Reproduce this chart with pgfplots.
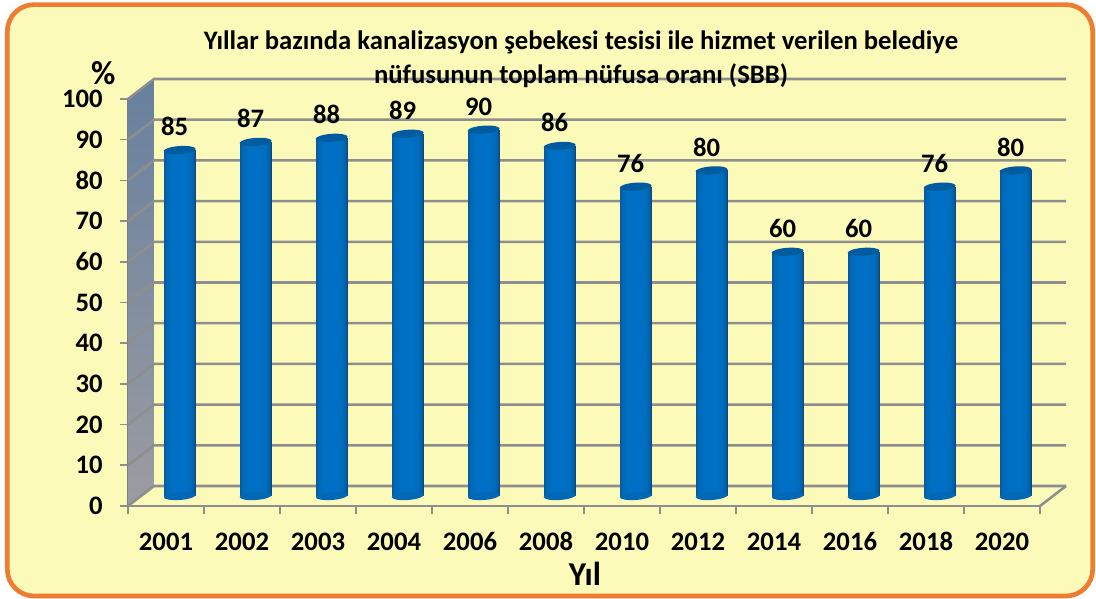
\documentclass[border=0pt]{standalone}
\usepackage{fontspec}
\setmainfont{Carlito}
\usepackage{pgfplots}
\pgfplotsset{compat=1.18}
\usetikzlibrary{calc}

\definecolor{panel}{HTML}{FBFAB9}
\definecolor{frame}{HTML}{ED7D31}
\definecolor{gridc}{HTML}{8E8E8E}
\definecolor{barmid}{HTML}{0070C4}
\definecolor{bardark}{HTML}{0A4A80}
\definecolor{captop}{HTML}{005C9E}
\definecolor{walltop}{HTML}{67809F}
\definecolor{wallbot}{HTML}{9C9CA2}

% 1 px = 0.75 pt, ellipses for the cylinder ends
\pgfdeclareplotmark{cylcap}{%
  \pgftransformrotate{4}%
  \pgfpathellipse{\pgfpointorigin}{\pgfqpoint{12pt}{0pt}}{\pgfqpoint{0pt}{3pt}}%
  \pgfusepathqfill}

\pgfplotsset{cylshift/.style={xshift=10.25pt, yshift=7.5pt, forget plot}}

% one strip of the cylinder body: width, colour, x, y
\newcommand{\strip}[4]{%
  \addplot[ybar, bar width=#1, bar shift=0pt, draw=none, fill=#2, cylshift] coordinates {(#3,#4)};
}
\newcommand{\cyl}[2]{%
  \addplot[only marks, mark=cylcap, mark options={fill=barmid!80!bardark, draw=none}, cylshift] coordinates {(#1,0)};
  \strip{24pt}{bardark}{#1}{#2}
  \strip{23pt}{barmid!40!bardark}{#1}{#2}
  \strip{22pt}{barmid!58!bardark}{#1}{#2}
  \strip{20.5pt}{barmid!72!bardark}{#1}{#2}
  \strip{18.5pt}{barmid!84!bardark}{#1}{#2}
  \strip{15.5pt}{barmid!93!bardark}{#1}{#2}
  \strip{11pt}{barmid}{#1}{#2}
  \addplot[only marks, mark=cylcap, mark options={fill=captop, draw=none}, cylshift,
    nodes near coords={\bfseries\fontsize{20}{20}\selectfont #2},
    every node near coord/.append style={xshift=-3.75pt, yshift=7pt, text=black}] coordinates {(#1,#2)};
}

\begin{document}
\begin{tikzpicture}
\useasboundingbox (-96pt,-69.75pt) rectangle ++(822pt,449.25pt);
\draw[line width=3.5pt, draw=frame, fill=panel, rounded corners=20pt]
  (-90.5pt,-67.5pt) rectangle (723.5pt,376pt);
\begin{axis}[
  scale only axis,
  width=684pt,
  height=305.25pt,
  at={(0pt,0pt)},
  xmin=0, xmax=12,
  ymin=0, ymax=100,
  clip=false,
  axis lines=left,
  axis line style={draw=gridc, line width=1.6pt, -},
  xtick={0.5,1.5,2.5,3.5,4.5,5.5,6.5,7.5,8.5,9.5,10.5,11.5},
  xticklabels={2001,2002,2003,2004,2006,2008,2010,2012,2014,2016,2018,2020},
  minor xtick={0,1,2,3,4,5,6,7,8,9,10,11,12},
  ytick={0,10,...,100},
  major x tick style={draw=none},
  minor x tick style={draw=gridc, line width=1.2pt},
  y tick style={draw=gridc, line width=1.2pt},
  minor tick length=6pt,
  major tick length=6pt,
  tick align=outside,
  tick pos=lower,
  typeset ticklabels with strut,
  ticklabel style={font=\bfseries\fontsize{20}{20}\selectfont, text=black},
  /pgf/number format/assume math mode=true,
  xticklabel style={yshift=-9.5pt},
  yticklabel style={xshift=-9.5pt, yshift=-2.5pt},
]
% left wall of the 3D box
\fill[bottom color=wallbot, top color=walltop]
  (axis cs:0,0) -- (axis cs:0.342,4.914) -- (axis cs:0.342,104.914) -- (axis cs:0,100) -- cycle;
% back wall grid
\pgfplotsinvokeforeach{0,10,...,100}{
  \draw[gridc, line width=1.9pt] (axis cs:0,#1) -- ($(axis cs:0.342,#1)+(0,15pt)$) -- ($(axis cs:12.342,#1)+(0,15pt)$);
}
\draw[gridc, line width=1.9pt] (axis cs:12,0) -- ($(axis cs:12.342,0)+(0,15pt)$);

\cyl{0.5}{85}
\cyl{1.5}{87}
\cyl{2.5}{88}
\cyl{3.5}{89}
\cyl{4.5}{90}
\cyl{5.5}{86}
\cyl{6.5}{76}
\cyl{7.5}{80}
\cyl{8.5}{60}
\cyl{9.5}{60}
\cyl{10.5}{76}
\cyl{11.5}{80}
\end{axis}
\node[font=\bfseries\fontsize{20}{26}\selectfont, align=center, anchor=center, text=black]
  at (339.75pt,335pt) {Yıllar bazında kanalizasyon şebekesi tesisi ile hizmet verilen belediye\\nüfusunun toplam nüfusa oranı (SBB)};
\node[font=\bfseries\fontsize{25}{25}\selectfont, text=black] at (-18.5pt,324.5pt) {\%};
\node[font=\bfseries\fontsize{25}{25}\selectfont, text=black] at (342.75pt,-51pt) {Yıl};
\end{tikzpicture}
\end{document}
